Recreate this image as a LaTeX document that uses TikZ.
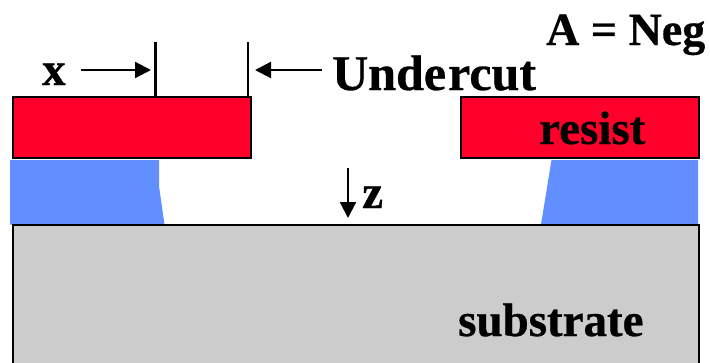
\documentclass[tikz,border=0pt]{standalone}
\usepackage{fontspec}
\setmainfont[BoldFeatures={FakeBold=0.6}]{Liberation Serif}
\usetikzlibrary{arrows.meta}
\definecolor{resistred}{RGB}{255,0,43}
\definecolor{blayer}{RGB}{98,143,255}
\definecolor{subgray}{RGB}{204,204,204}
\tikzset{
  x=1pt,y=-1pt,
  resistbox/.style={draw=black,line width=2.4pt,fill=resistred,inner sep=0pt,outer sep=0pt,anchor=north west,minimum width=238pt,minimum height=61pt},
  lbl/.style={inner sep=0pt,anchor=base west,font=\fontsize{47}{47}\selectfont\bfseries},
  toplbl/.style={inner sep=0pt,anchor=base west,font=\fontsize{46}{46}\selectfont\bfseries},
  bigl/.style={inner sep=0pt,anchor=base west,font=\fontsize{50}{50}\selectfont\bfseries},
  dim/.style={line width=2.2pt,-{Triangle[length=16pt,width=16pt]}},
  tick/.style={line width=2.4pt},
}
\begin{document}
\begin{tikzpicture}
\useasboundingbox (0,0) rectangle (710,362);
\clip (0,0) rectangle (710,362);
% blue layer
\fill[blayer] (10,160) -- (159,160) -- (159,186) -- (164.5,224.5) -- (10,224.5) -- cycle;
\fill[blayer] (551.5,160) -- (698,160) -- (698,224.5) -- (541,224.5) -- cycle;
% substrate
\fill[subgray] (13,225) rectangle (699,370);
\draw[line width=2.4pt] (13,370) -- (13,225) -- (699,225) -- (699,370);
% resist
\node[resistbox] (rl) at (13,97) {};
\node[resistbox] (rr) at (461,97) {};
% ticks
\coordinate (t1) at (155.5,42);
\coordinate (t2) at (248,42);
\draw[tick] (t1) -- (t1 |- rl.north);
\draw[tick] (t2) -- (t2 |- rl.north);
% labels
\node[lbl] (x) at (42,85) {x};
\node[bigl] (u) at (332,90) {Unde\kern2pt rcut};
\node[toplbl] (a) at (546,45) {A = Neg};
\node[lbl] (r) at (539,144) {resist};
\node[lbl] (s) at (458,336) {substrate};
\node[lbl] (z) at (362,208) {z};
% arrows
\coordinate (xa) at (81,70);
\coordinate (ua) at (322,70);
\coordinate (za) at (348,168);
\coordinate (zb) at (348,218);
\draw[dim] (xa) -- (151,70);
\draw[dim] (ua) -- (255,70);
\draw[dim] (za) -- (zb);
\end{tikzpicture}
\end{document}
